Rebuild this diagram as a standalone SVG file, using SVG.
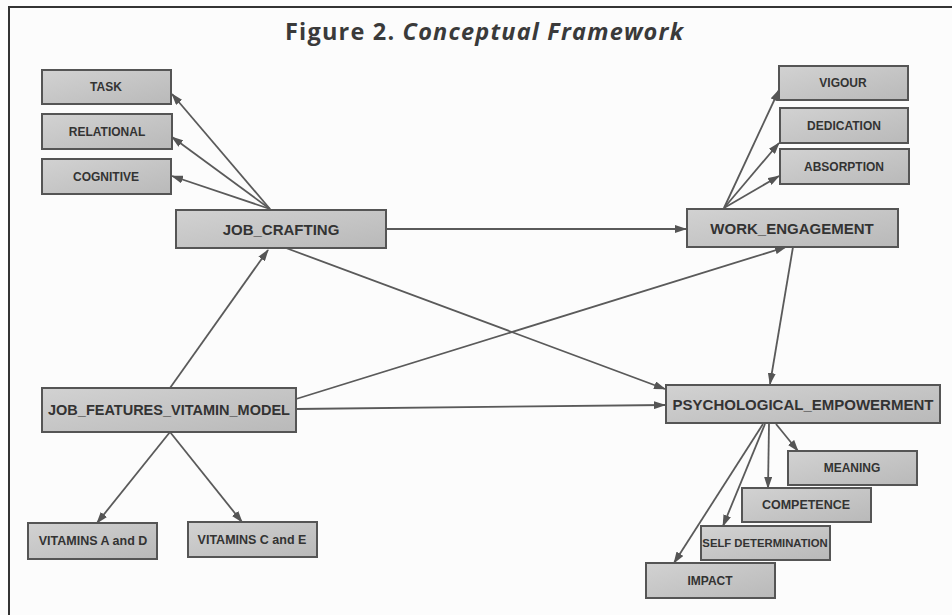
<svg xmlns="http://www.w3.org/2000/svg" width="952" height="615" viewBox="0 0 952 615">
<defs>
<linearGradient id="g" x1="0" y1="0" x2="1" y2="1">
<stop offset="0" stop-color="#d2d2d2"/>
<stop offset="1" stop-color="#b9b9b9"/>
</linearGradient>
<marker id="ah" markerUnits="userSpaceOnUse" markerWidth="12" markerHeight="8" refX="11" refY="4" orient="auto">
<path d="M0,0 L12,4 L0,8 z" fill="#555"/>
</marker>
<style>
.n rect{fill:url(#g);stroke:#555;stroke-width:2}
.n text{font-family:"Liberation Sans",Arial,sans-serif;font-weight:bold;fill:#333;text-anchor:middle;dominant-baseline:central}
.big text{font-size:15px}
.small text{font-size:12px}
#edges line{stroke:#5a5a5a;stroke-width:1.8;marker-end:url(#ah)}
.title{font-family:"Open Sans","Liberation Sans",sans-serif;font-weight:bold;font-size:23.5px;fill:#3a3a3a}
</style>
</defs>
<rect x="0" y="0" width="952" height="615" fill="#fcfcfc"/>
<rect x="9" y="7" width="965" height="630" fill="none" stroke="#333" stroke-width="2"/>
<text class="title" x="285" y="39.5" textLength="398" lengthAdjust="spacing">Figure 2. <tspan font-style="italic">Conceptual Framework</tspan></text>

<g id="edges">
<line x1="270" y1="209" x2="172" y2="94"/>
<line x1="270" y1="209" x2="172" y2="137"/>
<line x1="270" y1="209" x2="172" y2="176"/>
<line x1="386" y1="229" x2="686" y2="229"/>
<line x1="724" y1="208" x2="779" y2="90"/>
<line x1="724" y1="208" x2="779" y2="143"/>
<line x1="724" y1="208" x2="779" y2="176"/>
<line x1="793" y1="247" x2="770" y2="384"/>
<line x1="296" y1="399" x2="786" y2="247"/>
<line x1="296" y1="409" x2="665" y2="405"/>
<line x1="286" y1="248" x2="665" y2="389"/>
<line x1="170" y1="388" x2="268" y2="250"/>
<line x1="170" y1="432" x2="97" y2="523"/>
<line x1="170" y1="432" x2="242" y2="522"/>
<line x1="776" y1="424" x2="798" y2="451"/>
<line x1="769" y1="424" x2="768" y2="488"/>
<line x1="765" y1="424" x2="723" y2="526"/>
<line x1="763" y1="424" x2="674" y2="563"/>
</g>

<g id="task" class="n small"><rect x="42" y="70" width="129" height="34"/><text x="106" y="87">TASK</text></g>
<g id="relational" class="n small"><rect x="42" y="114" width="130" height="35"/><text x="107" y="131.5">RELATIONAL</text></g>
<g id="cognitive" class="n small"><rect x="42" y="159" width="129" height="35"/><text x="106" y="176.5">COGNITIVE</text></g>
<g id="job_crafting" class="n big"><rect x="176" y="210" width="210" height="38"/><text x="281" y="229">JOB_CRAFTING</text></g>

<g id="vigour" class="n small"><rect x="779" y="66" width="129" height="34"/><text x="843" y="83">VIGOUR</text></g>
<g id="dedication" class="n small"><rect x="780" y="108" width="128" height="35"/><text x="844" y="125.5">DEDICATION</text></g>
<g id="absorption" class="n small"><rect x="780" y="149" width="129" height="35"/><text x="844" y="166.5">ABSORPTION</text></g>
<g id="work_engagement" class="n big"><rect x="687" y="209" width="211" height="38"/><text x="792" y="228">WORK_ENGAGEMENT</text></g>

<g id="job_features" class="n big"><rect x="42" y="388" width="254" height="44"/><text x="169" y="410" style="font-size:14.5px">JOB_FEATURES_VITAMIN_MODEL</text></g>
<g id="vit_ad" class="n small"><rect x="28" y="523" width="129" height="36"/><text x="93" y="541" style="font-size:12.5px">VITAMINS A and D</text></g>
<g id="vit_ce" class="n small"><rect x="188" y="522" width="129" height="35"/><text x="252" y="539.5" style="font-size:12.5px">VITAMINS C and E</text></g>

<g id="psych" class="n big"><rect x="666" y="385" width="274" height="38"/><text x="803" y="404">PSYCHOLOGICAL_EMPOWERMENT</text></g>
<g id="meaning" class="n small"><rect x="788" y="451" width="129" height="34"/><text x="852" y="468">MEANING</text></g>
<g id="competence" class="n small"><rect x="742" y="488" width="129" height="34"/><text x="806" y="505" style="font-size:12.5px">COMPETENCE</text></g>
<g id="self_det" class="n small"><rect x="701" y="526" width="129" height="34"/><text x="765" y="543" style="font-size:11.3px">SELF DETERMINATION</text></g>
<g id="impact" class="n small"><rect x="646" y="563" width="129" height="35"/><text x="710" y="580.5">IMPACT</text></g>
</svg>
